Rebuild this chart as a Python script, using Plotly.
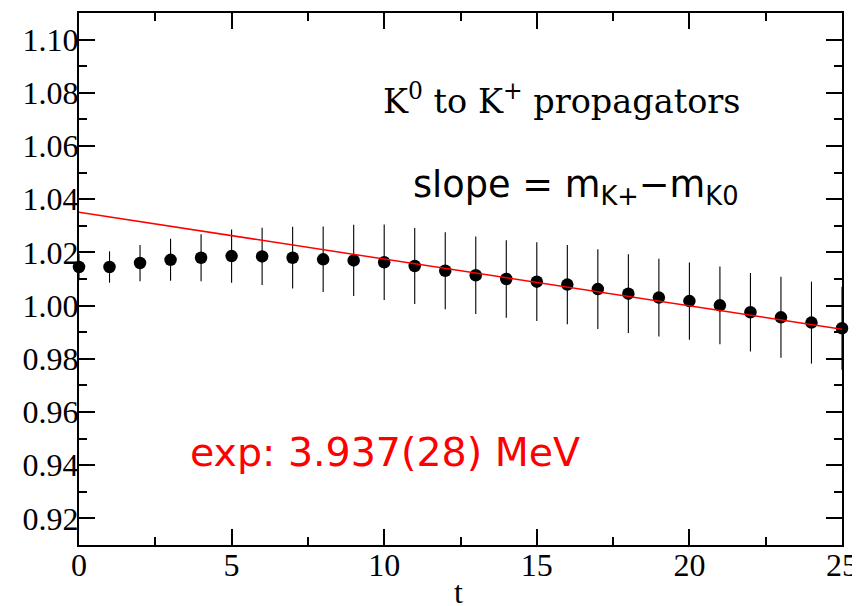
import plotly.graph_objects as go

t = list(range(26))
ratio = [1.0145, 1.0145, 1.0160, 1.0172, 1.0180, 1.0186, 1.0185, 1.0180, 1.0174, 1.0170,
         1.0163, 1.0149, 1.0131, 1.0114, 1.0100, 1.0090, 1.0079, 1.0062, 1.0045, 1.0030,
         1.0017, 1.0001, 0.9975, 0.9956, 0.9936, 0.9915]
err = [0.0050, 0.0059, 0.0068, 0.0079, 0.0088, 0.0100, 0.0108, 0.0116, 0.0123, 0.0134,
       0.0142, 0.0143, 0.0145, 0.0146, 0.0146, 0.0148, 0.0149, 0.0150, 0.0148, 0.0146,
       0.0145, 0.0146, 0.0148, 0.0152, 0.0154, 0.0156]
fit_t = [0, 25]
fit_y = [1.0351, 0.9911]

x_ticks = [0, 5, 10, 15, 20, 25]
y_ticks = [0.92, 0.94, 0.96, 0.98, 1.00, 1.02, 1.04, 1.06, 1.08, 1.10]
y_labels = ["0.92", "0.94", "0.96", "0.98", "1.00", "1.02", "1.04", "1.06", "1.08", "1.10"]

SERIF = "Liberation Serif"

fig = go.Figure()
fig.add_trace(go.Scatter(
    x=t, y=ratio, mode="markers",
    marker=dict(color="black", size=12.5),
    error_y=dict(type="data", array=err, visible=True, color="black", thickness=1.1, width=0),
    cliponaxis=False, showlegend=False))
fig.add_trace(go.Scatter(
    x=fit_t, y=fit_y, mode="lines",
    line=dict(color="red", width=1.5), showlegend=False))

axis_common = dict(
    showline=True, linecolor="black", linewidth=2, mirror="allticks",
    ticks="inside", ticklen=16, tickwidth=1.5, tickcolor="black",
    showgrid=False, zeroline=False, automargin=False, ticklabeloverflow="allow",
    tickfont=dict(family=SERIF, size=32, color="black"),
)

fig.update_xaxes(range=[0, 25], tickvals=x_ticks, ticklabelstandoff=-9,
                 minor=dict(dtick=2.5, ticks="inside", ticklen=8, tickcolor="black", tickwidth=1.5, tick0=0),
                 **axis_common)
fig.update_yaxes(range=[0.91, 1.11], tickvals=y_ticks, ticktext=y_labels, ticklabelstandoff=-8,
                 minor=dict(dtick=0.01, ticks="inside", ticklen=8, tickcolor="black", tickwidth=1.5, tick0=0.91),
                 **axis_common)

# x-axis title "t" (partly below the bottom edge, as in the reference)
fig.add_annotation(xref="paper", yref="paper", x=0.497, y=-0.0884, xanchor="center", yanchor="middle",
                   text="t", showarrow=False,
                   font=dict(family=SERIF, size=32, color="black"))
fig.add_annotation(xref="paper", yref="paper", x=0.396, y=0.8385, xanchor="left", yanchor="middle",
                   text="K<sup>0</sup> to K<sup>+</sup> propagators", showarrow=False,
                   font=dict(family="DejaVu Serif", size=33.5, color="black"))
fig.add_annotation(xref="paper", yref="paper", x=0.435, y=0.673, xanchor="left", yanchor="middle",
                   text="slope = m<sub>K+</sub>\u2212m<sub>K0</sub>", showarrow=False,
                   font=dict(family="DejaVu Sans", size=36.7, color="black"))
fig.add_annotation(xref="paper", yref="paper", x=0.143, y=0.175, xanchor="left", yanchor="middle",
                   text="exp: 3.937(28) MeV", showarrow=False,
                   font=dict(family="DejaVu Sans", size=39.5, color="red"))

# page body has an 8px margin, so the figure is sized/offset to land the plot area
# at the reference position in the 860x606 window
fig.update_layout(
    width=852, height=598,
    margin=dict(l=71, r=18, t=5, b=61),
    paper_bgcolor="white", plot_bgcolor="white",
)

fig.write_html("out.html")
